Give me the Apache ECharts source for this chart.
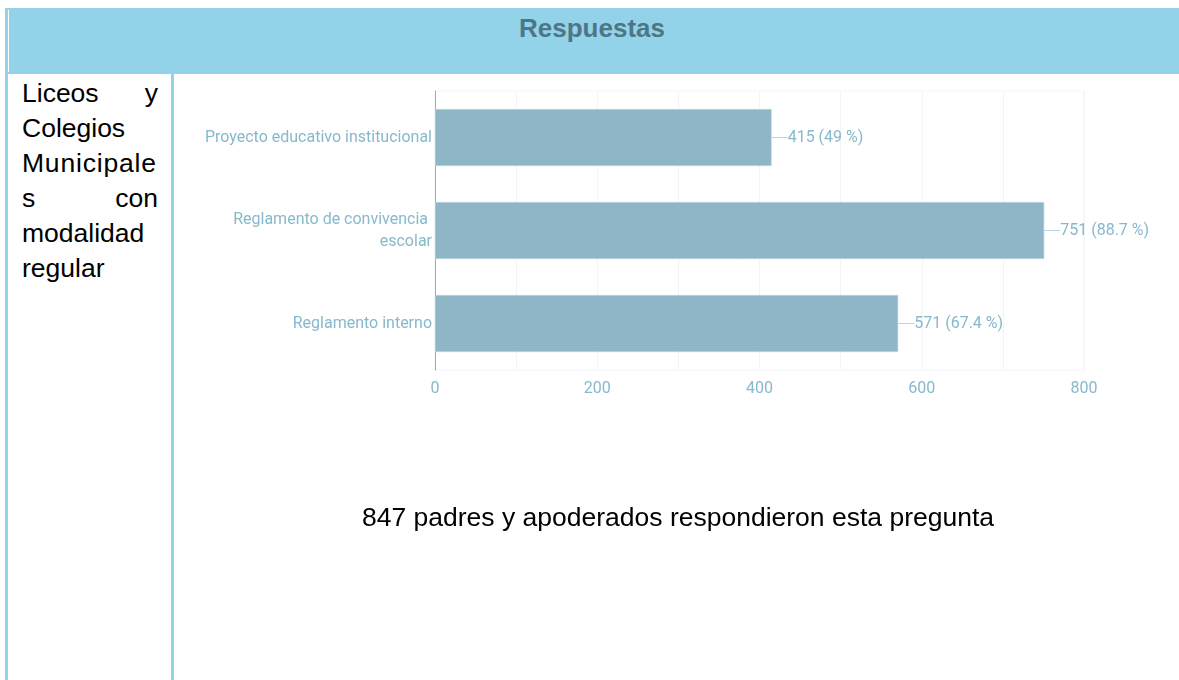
<!DOCTYPE html>
<html>
<head>
<meta charset="utf-8">
<script src="https://cdn.jsdelivr.net/npm/echarts@6/dist/echarts.min.js"></script>
<style>
  html, body { margin: 0; padding: 0; background: #fff; }
  body { width: 1179px; height: 680px; position: relative; overflow: hidden; font-family: "Liberation Sans", Arial, sans-serif; }
  .head { position: absolute; left: 5px; top: 8px; width: 1174px; height: 66px; background: #93d3ea; }
  .head .inner { position: absolute; left: 3px; top: 2px; width: 1px; height: 62px; background: #fff; }
  .head .title { position: absolute; left: 0; right: 0; top: 2px; line-height: 36px; text-align: center; font-weight: bold; font-size: 26px; color: #4d7686; }
  .vline { position: absolute; top: 74px; width: 3px; height: 606px; background: #94d2ea; }
  .side { position: absolute; left: 22px; top: 76px; width: 136px; font-size: 26.5px; line-height: 35px; color: #000; }
  .side div { text-align: justify; text-align-last: justify; white-space: nowrap; }
  .side div.l { text-align-last: left; }
  .side div.w { letter-spacing: 0.8px; }
  #chart { position: absolute; left: 0; top: 0; width: 1179px; height: 680px; }
</style>
</head>
<body>
<div class="head"><div class="inner"></div><div class="title">Respuestas</div></div>
<div class="vline" style="left:5px"></div>
<div class="vline" style="left:171px"></div>
<div class="side">
  <div>Liceos y</div>
  <div class="l">Colegios</div>
  <div class="l w">Municipale</div>
  <div>s con</div>
  <div class="l">modalidad</div>
  <div class="l">regular</div>
</div>
<div id="chart"></div>
<script>
// Answer options, counts and the percentage of respondents for each
const categories = ['Proyecto educativo institucional', 'Reglamento de convivencia escolar', 'Reglamento interno'];
const counts = [415, 751, 571];
const percents = ['49', '88.7', '67.4'];
const totalText = '847 padres y apoderados respondieron esta pregunta';

const labelColor = '#86b9cc';
const chart = echarts.init(document.getElementById('chart'), null, { renderer: 'canvas' });
chart.setOption({
  backgroundColor: 'transparent',
  animation: false,
  grid: { left: 435, right: 95, top: 91, bottom: 310, show: true, borderColor: '#f1f5f7', borderWidth: 1 },
  xAxis: {
    type: 'value', min: 0, max: 800, interval: 100,
    axisLine: { show: false }, axisTick: { show: false },
    splitLine: { show: true, lineStyle: { color: '#f1f5f7', width: 1 } },
    axisLabel: {
      color: labelColor, fontSize: 16, fontFamily: 'Roboto', margin: 11,
      formatter: v => (v % 200 === 0 ? String(v) : '')
    }
  },
  yAxis: {
    type: 'category', data: categories, inverse: true,
    axisLine: { show: true, lineStyle: { color: '#8fb3c2', width: 1 } },
    axisTick: { show: false },
    splitLine: { show: false },
    axisLabel: {
      color: labelColor, fontSize: 16, fontFamily: 'Roboto', margin: 3,
      width: 232, overflow: 'break', align: 'right', lineHeight: 22
    }
  },
  series: [{
    type: 'bar',
    data: counts,
    barCategoryGap: '38.5%',
    itemStyle: { color: '#8eb6c6', borderColor: '#c6dde6', borderWidth: 0.6 },
    label: {
      show: true, position: 'right', distance: 0,
      formatter: p => '{l|}{v|' + p.value + ' (' + percents[p.dataIndex] + ' %)}',
      rich: {
        l: { width: 16, height: 1, backgroundColor: '#b8d3dd', verticalAlign: 'middle' },
        v: { color: labelColor, fontSize: 16, fontFamily: 'Roboto', verticalAlign: 'middle' }
      }
    }
  }],
  graphic: [{
    type: 'text', x: 678, y: 519,
    style: { text: totalText, align: 'center', verticalAlign: 'middle', font: '26.5px "Liberation Sans", Arial, sans-serif', fill: '#000' }
  }]
});
</script>
</body>
</html>
